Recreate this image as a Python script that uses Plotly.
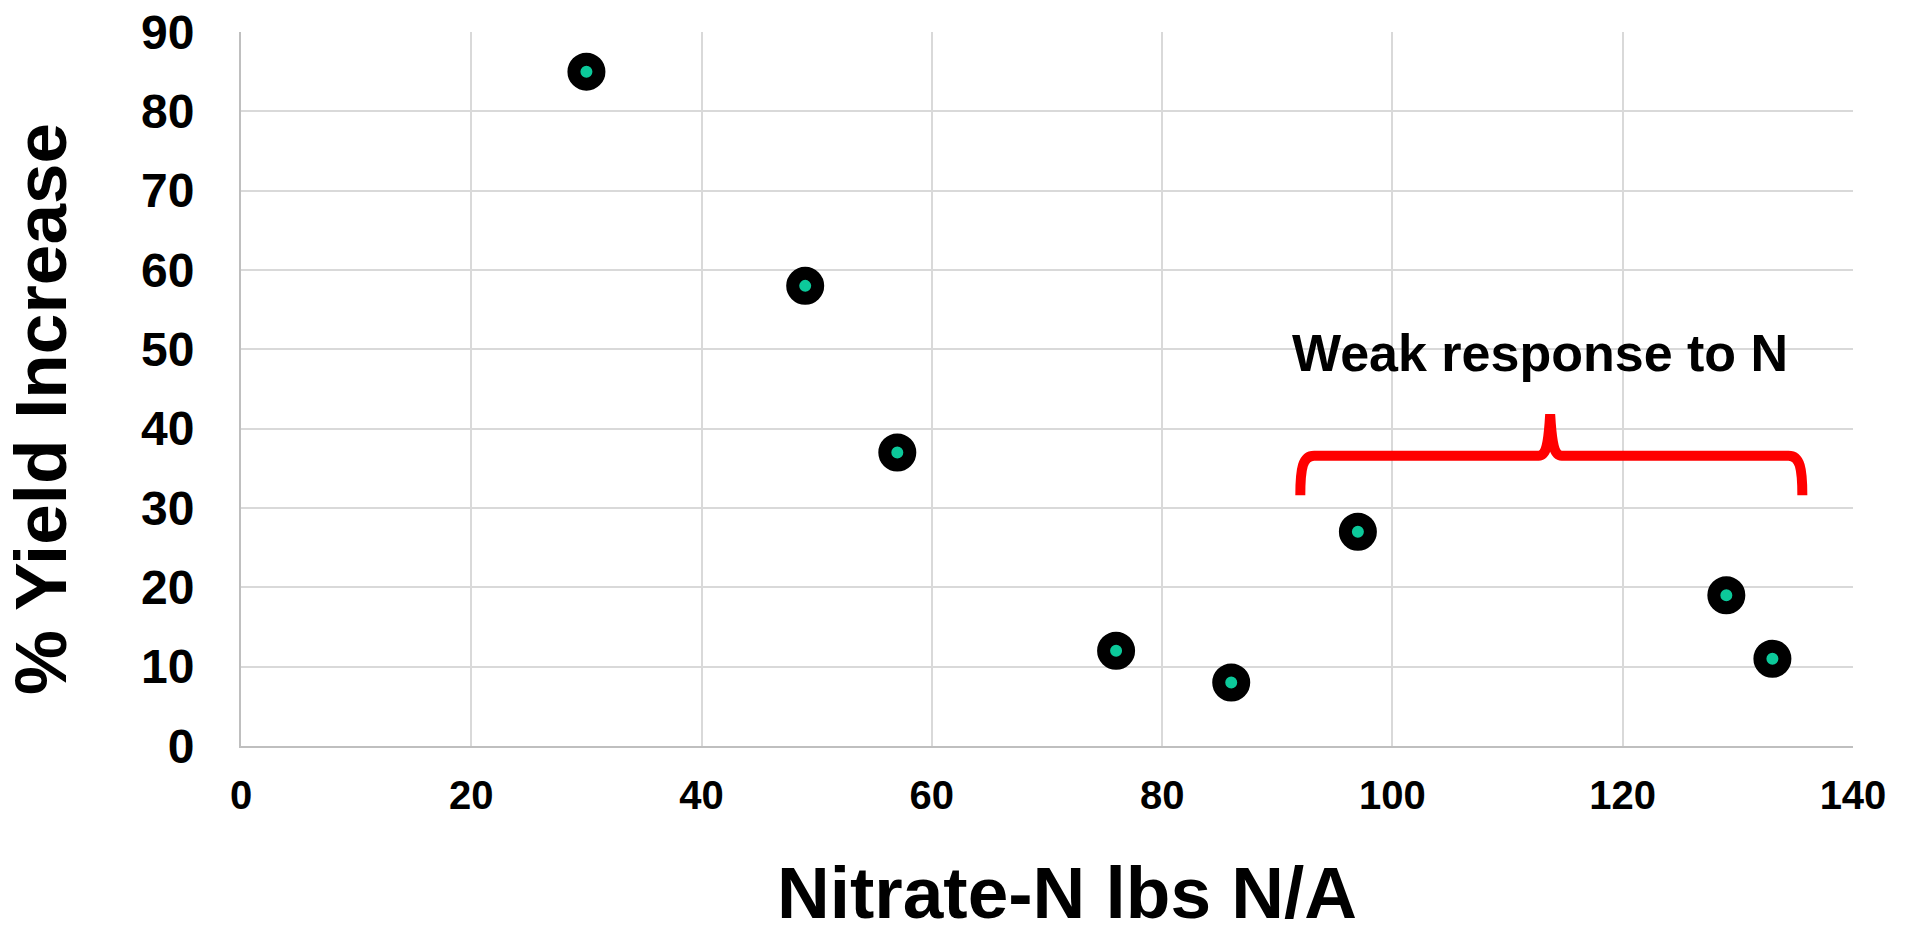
import plotly.graph_objects as go

# Soil nitrate-N vs. yield response
nitrate_n = [30, 49, 57, 76, 86, 97, 129, 133]
yield_increase = [85, 58, 37, 12, 8, 27, 19, 11]

x_ticks = [0, 20, 40, 60, 80, 100, 120, 140]
y_ticks = [0, 10, 20, 30, 40, 50, 60, 70, 80, 90]

x_title = "Nitrate-N lbs N/A"
y_title = "% Yield Increase"

# Curly brace spanning the weak-response group (data units)
brace_left, brace_mid, brace_right = 92.0, 113.7, 135.6
brace_foot, brace_bar, brace_tip = 31.6, 36.6, 41.8
brace_label = "Weak response to N"

FONT = "Liberation Sans, Arial, sans-serif"

fig = go.Figure()
fig.add_trace(go.Scatter(
    x=nitrate_n, y=yield_increase, mode="markers",
    marker=dict(size=25, color="#0CC99A", line=dict(color="black", width=13)),
    showlegend=False, hoverinfo="x+y",
))

L, M, R = brace_left, brace_mid, brace_right
F, B, T = brace_foot, brace_bar, brace_tip
path = (
    f"M {L},{F} C {L},{B - 1.6} {L + 0.2},{B} {L + 1.2},{B} "
    f"L {M - 1.0},{B} C {M - 0.3},{B} {M - 0.15},{B + 1.5} {M},{T} "
    f"C {M + 0.15},{B + 1.5} {M + 0.3},{B} {M + 1.0},{B} "
    f"L {R - 1.2},{B} C {R - 0.2},{B} {R},{B - 1.6} {R},{F}"
)
fig.add_shape(type="path", path=path, xref="x", yref="y",
              line=dict(color="#FF0000", width=10), layer="above")

fig.add_annotation(x=brace_mid - 0.9, y=49.5, xref="x", yref="y",
                   text=f"<b>{brace_label}</b>", showarrow=False,
                   font=dict(family=FONT, size=52, color="black"),
                   xanchor="center", yanchor="middle")

# Axis titles
fig.add_annotation(x=0.5124, y=-0.2045, xref="paper", yref="paper",
                   text=f"<b>{x_title}</b>", showarrow=False,
                   font=dict(family=FONT, size=73, color="black"),
                   xanchor="center", yanchor="middle")
fig.add_annotation(x=-0.1241, y=0.472, xref="paper", yref="paper",
                   text=f"<b>{y_title}</b>", showarrow=False, textangle=-90,
                   font=dict(family=FONT, size=73, color="black"),
                   xanchor="center", yanchor="middle")

fig.update_layout(
    width=1907, height=927,
    margin=dict(l=241, r=54, t=32, b=181, autoexpand=False),
    paper_bgcolor="white", plot_bgcolor="white",
    font=dict(family=FONT, color="black"),
    xaxis=dict(
        range=[0, 140], tickvals=x_ticks, ticktext=[f"<b>{v}</b>" for v in x_ticks],
        tickfont=dict(size=40), showgrid=True, gridcolor="#D9D9D9", gridwidth=2,
        showline=True, linecolor="#BFBFBF", linewidth=2, zeroline=False,
        ticks="", ticklabelstandoff=13,
        automargin=False, fixedrange=True,
    ),
    yaxis=dict(
        range=[0, 90], tickvals=y_ticks, ticktext=[f"<b>{v}</b>" for v in y_ticks],
        tickfont=dict(size=48), showgrid=True, gridcolor="#D9D9D9", gridwidth=2,
        showline=True, linecolor="#BFBFBF", linewidth=2, zeroline=False,
        ticks="", ticklabelstandoff=35,
        automargin=False, fixedrange=True,
    ),
)

fig.write_html("out.html")
